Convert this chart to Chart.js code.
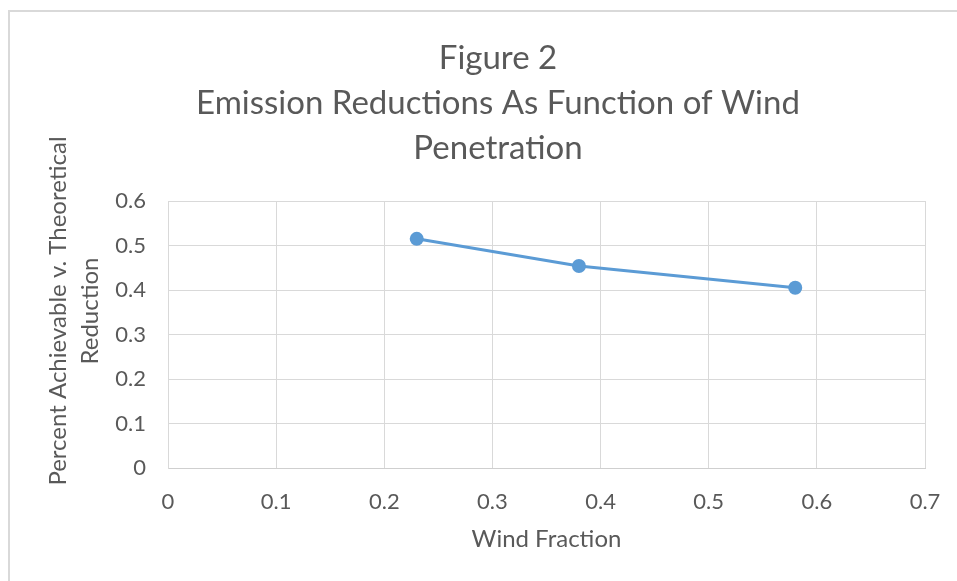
<!DOCTYPE html>
<html>
<head>
<meta charset="utf-8">
<script src="https://cdn.jsdelivr.net/npm/chart.js@4/dist/chart.umd.min.js"></script>
<style>
  html, body { margin: 0; padding: 0; background: #fff; overflow: hidden; }
  #frame {
    position: absolute; left: 8px; top: 10px;
    width: 980px; height: 600px;
    box-sizing: border-box;
    border: 2px solid #d9d9d9;
  }
</style>
</head>
<body>
<div id="frame"><canvas id="fig2"></canvas></div>
<script>
// data
const windFraction = [0.23, 0.38, 0.58];
const reductionPct = [0.515, 0.454, 0.405];
const xTickLabels = ['0', '0.1', '0.2', '0.3', '0.4', '0.5', '0.6', '0.7'];
const yTickLabels = ['0', '0.1', '0.2', '0.3', '0.4', '0.5', '0.6'];

const titleLines = ['Figure 2', 'Emission Reductions As Function of Wind', 'Penetration'];
const xTitle = 'Wind Fraction';
const yTitleLines = ['Percent Achievable v. Theoretical', 'Reduction'];

const textGray = '#595959';
const gridGray = '#d9d9d9';
const fontFam = 'Lato, "Open Sans", sans-serif';

// y axis title is drawn by hand so it can sit a little above the plot centre like the original
const yTitlePlugin = {
    id: 'yTitle',
    afterDraw(chart) {
        const ctx = chart.ctx;
        ctx.save();
        ctx.fillStyle = textGray;
        ctx.font = '24px ' + fontFam;
        ctx.textAlign = 'center';
        ctx.textBaseline = 'middle';
        ctx.translate(48, 299);
        ctx.rotate(-Math.PI / 2);
        yTitleLines.forEach((line, i) => ctx.fillText(line, 0, i * 32));
        ctx.restore();
    }
};

const points = windFraction.map((x, i) => ({x: x, y: reductionPct[i]}));

new Chart(document.getElementById('fig2'), {
    type: 'line',
    data: {
        datasets: [{
            data: points,
            borderColor: '#5b9bd5',
            backgroundColor: '#5b9bd5',
            borderWidth: 3,
            pointRadius: 7,
            pointBorderWidth: 0,
            fill: false,
            tension: 0
        }]
    },
    options: {
        responsive: true,
        maintainAspectRatio: false,
        animation: false,
        layout: { padding: { left: 61, right: 61, top: 0, bottom: 40 } },
        plugins: {
            legend: { display: false },
            tooltip: { enabled: false },
            title: {
                display: true,
                text: titleLines,
                color: textGray,
                font: { family: fontFam, size: 33, weight: 'normal', lineHeight: '45px' },
                padding: { top: 23.5, bottom: 30.5 }
            }
        },
        scales: {
            x: {
                type: 'linear',
                min: 0, max: 0.7,
                afterFit: (s) => { s.height = 100; },
                ticks: {
                    stepSize: 0.1,
                    color: textGray,
                    font: { family: fontFam, size: 22 },
                    padding: 21,
                    callback: (v, i) => xTickLabels[i]
                },
                grid: { color: gridGray, drawTicks: false },
                border: { color: '#cfcfcf', width: 1 },
                title: {
                    display: true,
                    text: xTitle,
                    color: textGray,
                    font: { family: fontFam, size: 24, lineHeight: 1.2 },
                    padding: { top: 0, bottom: 14 }
                }
            },
            y: {
                min: 0, max: 0.6,
                afterFit: (s) => { s.width = 97; },
                ticks: {
                    stepSize: 0.1,
                    color: textGray,
                    font: { family: fontFam, size: 22 },
                    padding: 22,
                    callback: (v, i) => yTickLabels[i]
                },
                grid: { color: gridGray, drawTicks: false },
                border: { color: gridGray, width: 1 }
            }
        }
    },
    plugins: [yTitlePlugin]
});
</script>
</body>
</html>
